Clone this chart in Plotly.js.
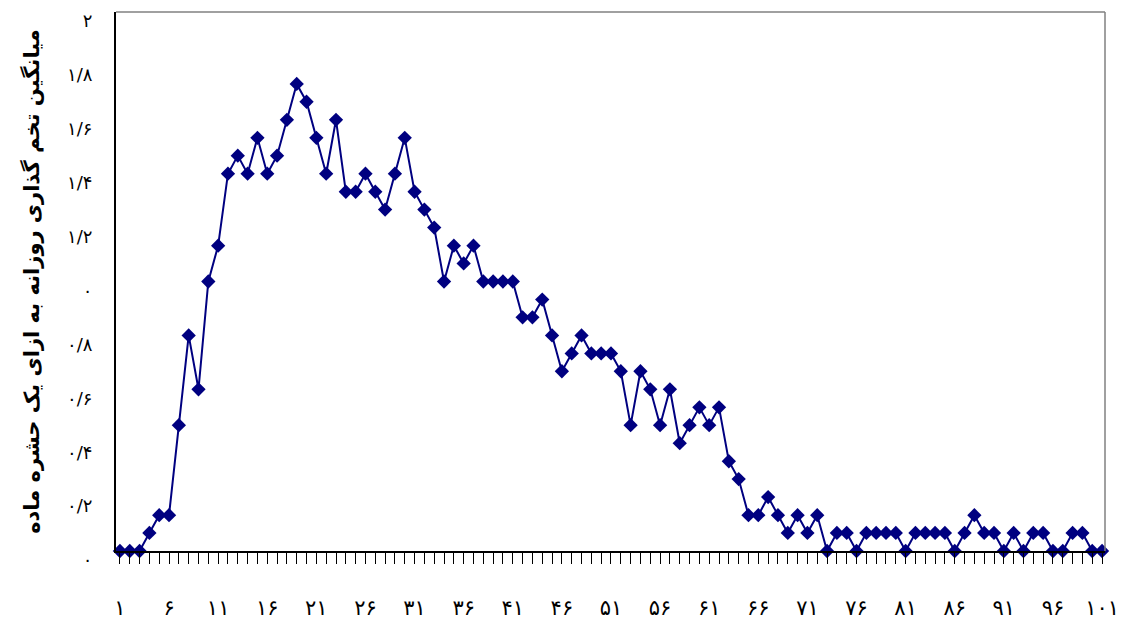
<!DOCTYPE html>
<html>
<head>
<meta charset="utf-8">
<script src="https://cdn.plot.ly/plotly-3.0.1.min.js"></script>
<style>html,body{margin:0;padding:0;background:#fff;}#chart{width:1131px;height:623px;}</style>
</head>
<body>
<div id="chart"></div>
<script>
const days = [1,2,3,4,5,6,7,8,9,10,11,12,13,14,15,16,17,18,19,20,21,22,23,24,25,26,27,28,29,30,31,32,33,34,35,36,37,38,39,40,41,42,43,44,45,46,47,48,49,50,51,52,53,54,55,56,57,58,59,60,61,62,63,64,65,66,67,68,69,70,71,72,73,74,75,76,77,78,79,80,81,82,83,84,85,86,87,88,89,90,91,92,93,94,95,96,97,98,99,100,101];
const meanEggs = [0,0,0,0.067,0.133,0.133,0.467,0.8,0.6,1.0,
  1.133,1.4,1.467,1.4,1.533,1.4,1.467,1.6,1.733,1.667,
  1.533,1.4,1.6,1.333,1.333,1.4,1.333,1.267,1.4,1.533,
  1.333,1.267,1.2,1.0,1.133,1.067,1.133,1.0,1.0,1.0,
  1.0,0.867,0.867,0.933,0.8,0.667,0.733,0.8,0.733,0.733,
  0.733,0.667,0.467,0.667,0.6,0.467,0.6,0.4,0.467,0.533,
  0.467,0.533,0.333,0.267,0.133,0.133,0.2,0.133,0.067,0.133,
  0.067,0.133,0,0.067,0.067,0,0.067,0.067,0.067,0.067,
  0,0.067,0.067,0.067,0.067,0,0.067,0.133,0.067,0.067,
  0,0.067,0,0.067,0.067,0,0,0.067,0.067,0,0];
const xTickVals = [1,6,11,16,21,26,31,36,41,46,51,56,61,66,71,76,81,86,91,96,101];
const xTickText = ['۱','۶','۱۱','۱۶','۲۱','۲۶','۳۱','۳۶','۴۱','۴۶','۵۱','۵۶','۶۱','۶۶','۷۱','۷۶','۸۱','۸۶','۹۱','۹۶','۱۰۱'];
const yTickVals = [0,0.2,0.4,0.6,0.8,1,1.2,1.4,1.6,1.8,2];
const yTickText = ['۰','۰/۲','۰/۴','۰/۶','۰/۸','۰','۱/۲','۱/۴','۱/۶','۱/۸','۲'];
const yTitle = 'میانگین تخم گذاری روزانه به ازای یک حشره ماده';

const trace = {
  x: days, y: meanEggs, type: 'scatter', mode: 'lines+markers',
  line: {color: '#000080', width: 2},
  marker: {symbol: 'diamond', size: 11, color: '#000080'},
  cliponaxis: false, hoverinfo: 'x+y'
};

const layout = {
  width: 1131, height: 623,
  margin: {l: 116, r: 26, t: 12, b: 72},
  paper_bgcolor: '#fff', plot_bgcolor: '#fff',
  showlegend: false,
  font: {family: 'DejaVu Sans', color: '#000'},
  xaxis: {
    range: [0.6, 101.3], showgrid: false, zeroline: false,
    showline: true, linecolor: '#000', linewidth: 1.5,
    tickmode: 'array', tickvals: xTickVals, ticktext: xTickText,
    ticks: 'outside', ticklen: 11, tickcolor: '#000', tickwidth: 1,
    ticklabelstandoff: 26,
    tickfont: {family: 'DejaVu Sans', size: 21, color: '#000'},
    minor: {tickmode: 'linear', tick0: 1, dtick: 1, ticks: 'outside', ticklen: 11, tickcolor: '#000', tickwidth: 1, showgrid: false}
  },
  yaxis: {
    range: [0, 2], showgrid: false, zeroline: false,
    showline: true, linecolor: '#000', linewidth: 2,
    tickmode: 'array', tickvals: yTickVals, ticktext: yTickText,
    ticks: '', ticklabelstandoff: 18, ticklabelshift: 9,
    tickfont: {family: 'DejaVu Sans', size: 18, color: '#000'},
    title: {text: yTitle, font: {family: 'DejaVu Sans', size: 21, color: '#000', weight: 'bold'}, standoff: 22}
  },
  shapes: [
    {type: 'line', xref: 'paper', yref: 'paper', x0: 0, x1: 1, y0: 1, y1: 1, line: {color: '#808080', width: 1.5}},
    {type: 'line', xref: 'paper', yref: 'paper', x0: 1, x1: 1, y0: 0, y1: 1, line: {color: '#808080', width: 1.5}}
  ]
};

Plotly.newPlot('chart', [trace], layout, {displayModeBar: false, staticPlot: true});
</script>
</body>
</html>
